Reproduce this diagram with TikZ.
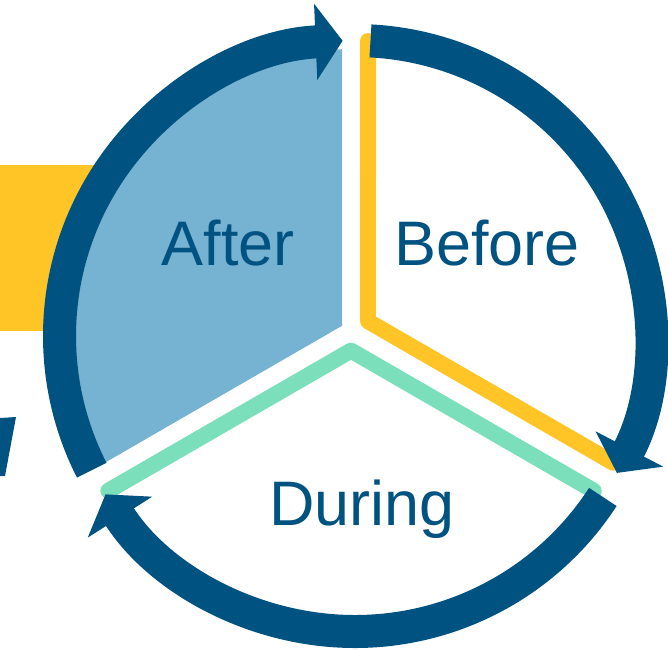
\documentclass[tikz,border=0pt]{standalone}
\usepackage{fontspec}
\setmainfont{Liberation Sans}
\usetikzlibrary{calc,arrows.meta}
\definecolor{darkblue}{RGB}{0,82,129}
\definecolor{lightblue}{RGB}{118,178,209}
\definecolor{gold}{RGB}{255,196,37}
\definecolor{mint}{RGB}{124,223,187}
\tikzset{
	ring/.style={darkblue, line width=0.33cm, -{Triangle[length=0.27cm,width=0.75cm]}},
	border/.style={line width=0.16cm, line cap=round, line join=round},
	phase/.style={anchor=base, text=darkblue, font=\fontsize{17.9}{20}\selectfont},
}

\begin{document}
\begin{tikzpicture}
\useasboundingbox (0,0) rectangle (6.68,6.49);
\coordinate (O) at (3.55,3.13);
\coordinate (P) at (3.51,3.18);
% background pieces
\fill[gold] (0,3.18) rectangle (1.0,4.84);
\fill[darkblue] (0,2.31)--(0.16,2.32)--(0.05,1.73)--(0,1.73)--cycle;
% sectors
\fill[lightblue] ($(P)+(150:0.104)$) -- ($(P)+(210:2.82)+(120:0.09)$) arc[start angle=208.17, end angle=91.8, radius=2.82] -- ($(P)+(-0.09,2.88)$) -- cycle;
\draw[border, gold] ($(P)+(0.17,2.9)$) -- ($(P)+(30:0.196)$) -- ($(P)+(-30:2.93)+(60:0.17)$);
\draw[border, mint] ($(P)+(210:2.9)+(300:0.17)$) -- ($(P)+(270:0.196)$) -- ($(P)+(-30:2.9)+(240:0.17)$);
% arrows round the circle
\foreach \a in {210,90,-30}
	\draw[ring] (O) ++(\a-3:2.955) arc[start angle=\a-3, end angle=\a-117.6, radius=2.955];
\node[phase] (after) at (2.28,3.84) {After};
\node[phase] (before) at (4.87,3.84) {Before};
\node[phase] (during) at (3.62,1.24) {During};
\end{tikzpicture}
\end{document}
